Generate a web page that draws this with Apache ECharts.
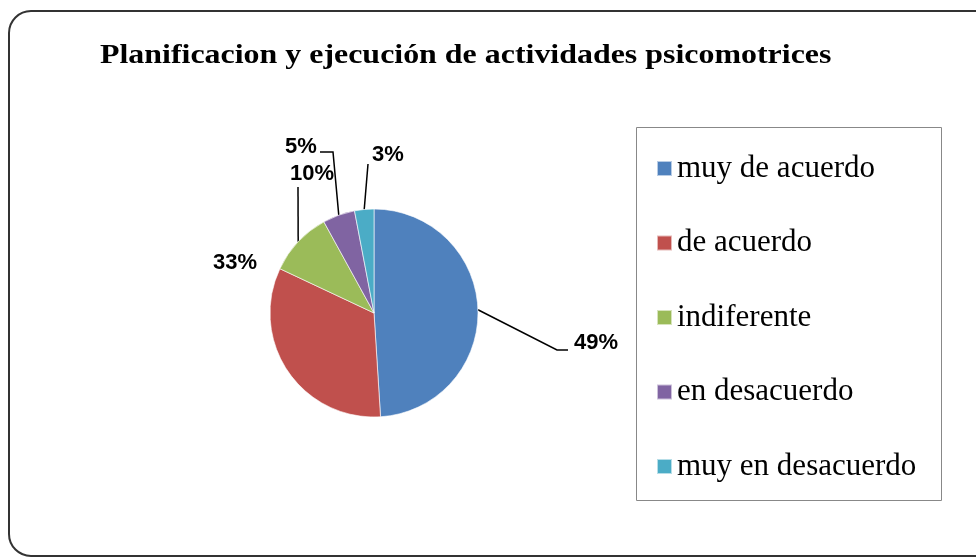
<!DOCTYPE html>
<html>
<head>
<meta charset="utf-8">
<script src="https://cdn.jsdelivr.net/npm/echarts@6/dist/echarts.min.js"></script>
<style>
  html, body { margin: 0; padding: 0; background: #fff; }
  #chart { width: 976px; height: 559px; }
</style>
</head>
<body>
<div id="chart"></div>
<script>
const titleText = 'Planificacion y ejecución de actividades psicomotrices'
const categories = ['muy de acuerdo', 'de acuerdo', 'indiferente', 'en desacuerdo', 'muy en desacuerdo']
const values = [49, 33, 10, 5, 3]
const colors = ['#4F81BD', '#C0504D', '#9BBB59', '#8064A2', '#4BACC6']

// where Excel put each percentage label (label centre) and the bend of its leader line
const labelAnchors = [
  { x: 596, y: 343, bend: [[557, 350], [568, 350]] },
  { x: 235, y: 263, bend: null },
  { x: 312, y: 174, bend: [[298, 187]] },
  { x: 301, y: 147, bend: [[333, 152], [320, 152]] },
  { x: 388, y: 155, bend: [[368, 164]] },
]

const chart = echarts.init(document.getElementById('chart'))

chart.setOption({
  animation: false,
  color: colors,
  graphic: [
    {
      type: 'rect',
      shape: { x: 9, y: 11, width: 990, height: 545, r: 22 },
      style: { fill: 'none', stroke: '#333', lineWidth: 2 },
      silent: true,
    },
    {
      type: 'rect',
      shape: { x: 636.5, y: 127.5, width: 305, height: 373 },
      style: { fill: 'none', stroke: '#888', lineWidth: 1 },
      silent: true,
    },
    {
      // Excel's title is set wider than the font's natural width
      type: 'text',
      x: 100,
      y: 56,
      scaleX: 1.14,
      style: {
        text: titleText,
        font: 'bold 28px "Liberation Serif"',
        fill: '#000',
        verticalAlign: 'middle',
      },
      silent: true,
    },
  ],
  legend: {
    orient: 'vertical',
    left: 651,
    top: 148,
    itemWidth: 15,
    itemHeight: 15,
    itemGap: 43.5,
    icon: 'rect',
    data: categories,
    textStyle: {
      fontFamily: 'Liberation Serif',
      fontSize: 31,
      lineHeight: 30,
      color: '#000',
    },
  },
  series: [
    {
      type: 'pie',
      center: [374, 313],
      radius: 104,
      startAngle: 90,
      clockwise: true,
      itemStyle: { borderColor: 'rgba(255,255,255,0.6)', borderWidth: 1 },
      label: {
        show: true,
        position: 'outside',
        formatter: '{d}%',
        fontFamily: 'Liberation Sans',
        fontWeight: 'bold',
        fontSize: 22,
        color: '#000',
      },
      labelLine: {
        show: true,
        lineStyle: { color: '#000', width: 1.5 },
      },
      labelLayout: (params) => {
        const a = labelAnchors[params.dataIndex]
        const edge = params.labelLinePoints ? params.labelLinePoints[0] : null
        const out = { x: a.x, y: a.y, align: 'center', verticalAlign: 'middle' }
        if (edge && a.bend) {
          out.labelLinePoints = [edge].concat(a.bend)
        } else if (edge) {
          out.labelLinePoints = [edge, edge, edge]
        }
        return out
      },
      data: categories.map((name, i) => ({ name: name, value: values[i] })),
    },
  ],
})
</script>
</body>
</html>
